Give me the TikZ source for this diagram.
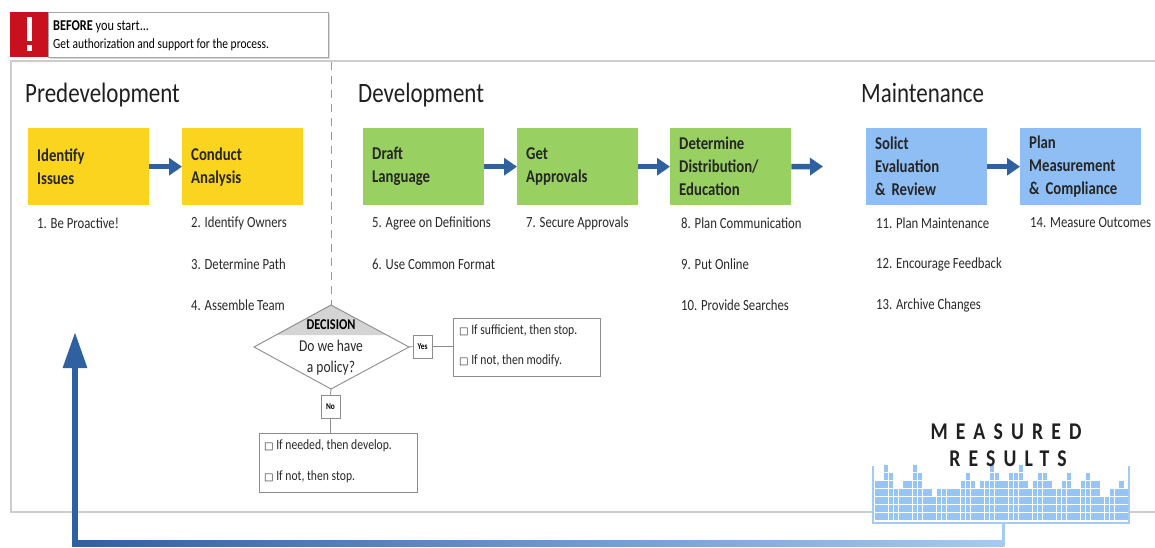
\documentclass[tikz,border=0pt]{standalone}
\usepackage{fontspec}
\setmainfont[FakeStretch=0.82]{Carlito}
\newfontfamily\sym{DejaVu Sans}
\usetikzlibrary{arrows.meta,shapes.geometric}
\definecolor{ylw}{RGB}{250,212,30}
\definecolor{grn}{RGB}{152,208,98}
\definecolor{blu}{RGB}{143,190,245}
\definecolor{arrowblue}{RGB}{47,96,160}
\definecolor{lightarrow}{RGB}{165,203,245}
\definecolor{redbox}{RGB}{200,16,30}
\definecolor{framegray}{RGB}{205,205,205}
\definecolor{linegray}{RGB}{140,140,140}
\definecolor{itemgray}{RGB}{40,40,40}
\definecolor{chartblue}{RGB}{150,196,247}
\begin{document}
\begin{tikzpicture}[x=1pt,y=-1pt,
  stagebox/.style={minimum width=121pt, minimum height=77pt, inner sep=0pt, anchor=north west,
    text width=103pt, align=left, font=\fontsize{18}{23}\selectfont\bfseries, text=black!85},
  item/.style={anchor=west, inner sep=0pt, font=\fontsize{15.5}{17}\selectfont, text=itemgray},
  header/.style={anchor=base west, inner sep=0pt, font=\fontsize{28}{30}\selectfont, text=black!88},
  flow/.style={line width=5.5pt, draw=arrowblue, -{Triangle[length=13pt,width=17pt]}},
  thinline/.style={draw=linegray, line width=0.8pt},
  optbox/.style={draw=linegray, line width=0.8pt, inner sep=0pt, anchor=north west, fill=white},
  tagbox/.style={draw=linegray, line width=0.8pt, fill=white, minimum width=19pt, minimum height=23pt,
    inner sep=0pt, font=\fontsize{9}{10}\selectfont\bfseries},
  opt/.style={anchor=west, inner sep=0pt, font=\fontsize{14.2}{16}\selectfont, text=itemgray}
]
\useasboundingbox (0,0) rectangle (1155,547);

% outer frame
\draw[framegray, line width=1.3pt] (1155,61) -- (11,61) -- (11,512) -- (1155,512);

% BEFORE box
\fill[black!15] (50,14) rectangle (330,59);
\node[draw=black!35, fill=white, line width=0.6pt, minimum width=280pt, minimum height=45pt, anchor=north west, inner sep=0pt] (before) at (48,12) {};
\fill[redbox] (10,12) rectangle (48,57);
\fill[white] (26.5,17) rectangle (31.5,41);
\fill[white] (26.5,45) rectangle (31.5,51);
\node[anchor=west, inner sep=0pt, font=\fontsize{15}{16}\selectfont] (bf1) at (53,27) {\textbf{BEFORE} you start...};
\node[anchor=west, inner sep=0pt, font=\fontsize{14}{15}\selectfont] (bf2) at (53,45) {Get authorization and support for the process.};

% headers
\node[header] (h1) at (25,102) {Predevelopment};
\node[header] (h2) at (358,102) {Development};
\node[header] (h3) at (861,102) {Maintenance};

% stage boxes
\node[stagebox, fill=ylw] (b1) at (28,128) {Identify\\Issues};
\node[stagebox, fill=ylw] (b2) at (182,128) {Conduct\\Analysis};
\node[stagebox, fill=grn] (b3) at (363,128) {Draft\\Language};
\node[stagebox, fill=grn] (b4) at (517,128) {Get\\Approvals};
\node[stagebox, fill=grn] (b5) at (670,128) {Determine\\Distribution/\\Education};
\node[stagebox, fill=blu] (b6) at (866,128) {Solict\\Evaluation\\\&~Review};
\node[stagebox, fill=blu] (b7) at (1020,128) {Plan\\Measurement\\\&~Compliance};
\coordinate (b5out) at (823,166.5);

\draw[flow] (b1.east) -- (b2.west);
\draw[flow] (b3.east) -- (b4.west);
\draw[flow] (b4.east) -- (b5.west);
\draw[flow] (b5.east) -- (b5out);
\draw[flow] (b6.east) -- (b7.west);

% items
\node[item] (i1) at (37,223) {1. Be Proactive!};
\node[item] (i2) at (191,223) {2. Identify Owners};
\node[item] (i3) at (191,264) {3. Determine Path};
\node[item] (i4) at (191,305) {4. Assemble Team};
\node[item] (i5) at (372,223) {5. Agree on Definitions};
\node[item] (i6) at (372,264) {6. Use Common Format};
\node[item] (i7) at (526,223) {7. Secure Approvals};
\node[item] (i8) at (681,223) {8. Plan Communication};
\node[item] (i9) at (681,264) {9. Put Online};
\node[item] (i10) at (681,305) {10. Provide Searches};
\node[item] (i11) at (876,223) {11. Plan Maintenance};
\node[item] (i12) at (876,264) {12. Encourage Feedback};
\node[item] (i13) at (876,305) {13. Archive Changes};
\node[item] (i14) at (1030,223) {14. Measure Outcomes};

% decision diamond
\coordinate (dtop) at (331,305);
\coordinate (dleft) at (254,347);
\coordinate (dright) at (409,347);
\coordinate (dbot) at (331,389);
\coordinate (dashtop) at (331,62);
\draw[black!40, line width=0.9pt, dash pattern=on 8pt off 6pt] (dashtop) -- (dtop);
\fill[white] (dtop) -- (dright) -- (dbot) -- (dleft) -- cycle;
\fill[black!17] (dtop) -- (386.7,335) -- (275.3,335) -- cycle;
\draw[linegray, line width=0.9pt] (dtop) -- (dright) -- (dbot) -- (dleft) -- cycle;
\node[inner sep=0pt, font=\fontsize{15}{16}\selectfont\bfseries] (dec) at (331,325) {DECISION};
\node[inner sep=0pt, align=center, font=\fontsize{16.5}{21}\selectfont, text=itemgray] (decq) at (331,358) {Do we have\\a policy?};

% yes branch
\node[tagbox] (yes) at (422.5,346.5) {Yes};
\node[optbox, minimum width=147pt, minimum height=58pt] (ybox) at (453,318) {};
\draw[thinline] (dright) -- (yes.west);
\draw[thinline] (yes.east) -- (ybox.west |- yes.east);
\node[opt] (y1) at (459,331) {{\sym\fontsize{10}{12}\selectfont □} If sufficient, then stop.};
\node[opt] (y2) at (459,361) {{\sym\fontsize{10}{12}\selectfont □} If not, then modify.};

% no branch
\node[tagbox] (no) at (330.5,406.5) {No};
\node[optbox, minimum width=158pt, minimum height=59pt] (nbox) at (259,433) {};
\draw[thinline] (dbot) -- (no.north);
\draw[thinline] (no.south) -- (no.south |- nbox.north);
\node[opt] (n1) at (264,446) {{\sym\fontsize{10}{12}\selectfont □} If needed, then develop.};
\node[opt] (n2) at (264,477) {{\sym\fontsize{10}{12}\selectfont □} If not, then stop.};

% measured results chart
\fill[white] (872,460) rectangle (1130,524);
\foreach \h [count=\i from 0] in {5,5,7,6,4,4,5,5,7,6,4,4,3,4,4,4,4,4,5,6,5,4,5,5,7,6,5,5,6,6,7,5,4,5,6,6,5,4,4,5,6,4,4,5,6,5,5,3,3,4,4,5,4}{
  \foreach \r in {1,...,\h}{
    \fill[chartblue] ({876.7+\i*4.8-2.1}, {519.5-(\r-1)*7.9}) rectangle ++(4.2,-6.8);
  }
}
\draw[lightarrow, line width=2pt] (873,466) -- (873,523) -- (1129,523) -- (1129,466);
\node[inner sep=0pt, font=\fontsize{24}{26}\selectfont\bfseries\addfontfeature{LetterSpace=34}, text=black!88] (mr1) at (1006,432) {MEASURED};
\node[inner sep=0pt, font=\fontsize{24}{26}\selectfont\bfseries\addfontfeature{LetterSpace=34}, text=black!88] (mr2) at (1008,459) {RESULTS};

% feedback arrow
\coordinate (chartout) at (1003,523);
\coordinate (fbcorner) at (1003,543);
\coordinate (fbleft) at (75,543);
\coordinate (fbtip) at (75,332);
\draw[lightarrow, line width=3pt] (chartout) -- (fbcorner);
\shade[left color=arrowblue, right color=lightarrow] (72,540) rectangle (1004.5,546);
\draw[arrowblue, line width=6pt, -{Triangle[length=36pt,width=23pt]}] (fbleft) -- (fbtip);
\end{tikzpicture}
\end{document}
